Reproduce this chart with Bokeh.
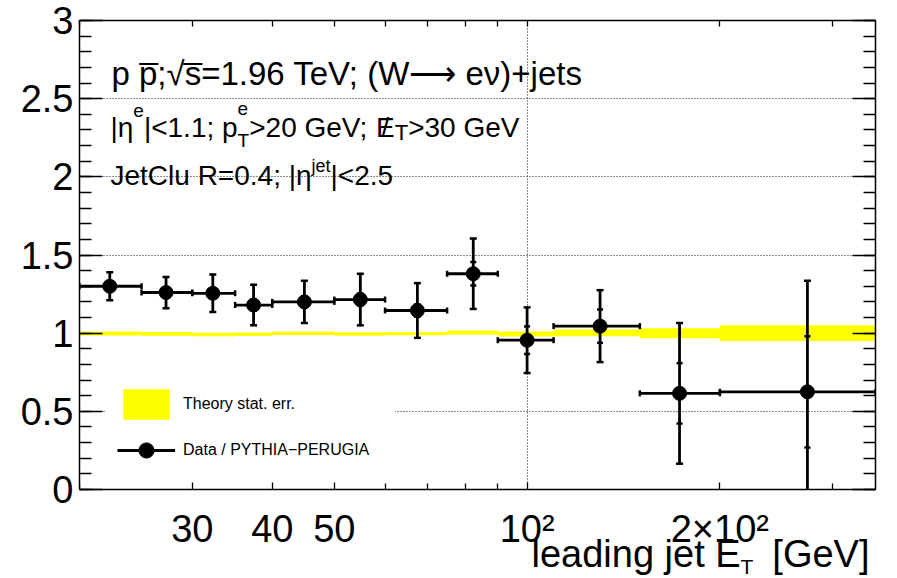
import math
from bokeh.plotting import figure
from bokeh.models import (Range1d, FixedTicker, SingleIntervalTicker, LinearAxis, LogAxis,
                          Label, Legend, LegendItem, BoxAnnotation)
from bokeh.embed import file_html
from bokeh.resources import INLINE

# ---------------- data ----------------
bin_lo = [20, 25, 30, 35, 40, 50, 60, 75, 90, 110, 150, 200]
bin_hi = [25, 30, 35, 40, 50, 60, 75, 90, 110, 150, 200, 350]
x_center = [22.3, 27.3, 32.3, 37.4, 44.9, 54.9, 67.4, 82.4, 100, 130, 173, 274]
ratio = [1.30, 1.26, 1.255, 1.18, 1.20, 1.215, 1.145, 1.38, 0.955, 1.045, 0.615, 0.625]
err_total = [0.09, 0.10, 0.12, 0.13, 0.135, 0.165, 0.175, 0.225, 0.21, 0.23, 0.45, 0.71]
err_stat = [0.025, 0.03, 0.03, 0.035, 0.035, 0.04, 0.04, 0.075, 0.088, 0.107, 0.193, 0.356]
theory_val = [0.998, 0.995, 0.992, 0.993, 1.0, 0.995, 0.997, 1.004, 0.995, 1.002, 1.0, 1.0]
theory_err = [0.013, 0.012, 0.011, 0.011, 0.011, 0.011, 0.011, 0.013, 0.016, 0.021, 0.032, 0.05]

x_major_ticks = [30, 40, 50, 100, 200]
x_minor_ticks = [20, 60, 70, 80, 90, 300]
x_tick_labels = {30: "30", 40: "40", 50: "50", 100: "10\u00b2", 200: "2\u00d710\u00b2"}
x_grid_ticks = [100]
y_tick_labels = {0: "0", 1: "1", 2: "2", 3: "3"}
y_min, y_max = 0, 3
x_min, x_max = 20, 350

legend_labels = ["Theory stat. err.", "Data / PYTHIA\u2212PERUGIA"]

# ---------------- layout (pixels) ----------------
FONT = "Liberation Sans"
W, H = 897, 578
BL, BR, BT = 79, 22, 20
AXIS_Y = 489                      # canvas row of the x axis (y = 0)
px_per_unit = (AXIS_Y - BT) / (y_max - y_min)
y_lo = y_min - (H - AXIS_Y) / px_per_unit   # frame extends to canvas bottom

p = figure(width=W, height=H, x_axis_type="log",
           x_range=Range1d(x_min, x_max), y_range=Range1d(y_lo, y_max),
           output_backend="svg", toolbar_location=None,
           min_border_left=BL, min_border_right=BR, min_border_top=BT, min_border_bottom=0,
           background_fill_color="white", border_fill_color="white")
p.outline_line_color = None

# bottom axis, fixed at y = 0
xa = p.xaxis[0]
xa.fixed_location = y_min
xa.ticker = FixedTicker(ticks=x_major_ticks, minor_ticks=x_minor_ticks)
xa.major_label_overrides = x_tick_labels
xa.major_label_text_font = FONT
xa.major_label_text_font_size = "38px"
xa.major_label_text_color = "black"
xa.major_label_standoff = 18
xa.major_tick_in = 7
xa.major_tick_out = 0
xa.minor_tick_in = 6
xa.minor_tick_out = 0
xa.axis_line_width = 1.5
xa.major_tick_line_width = 1.3
xa.minor_tick_line_width = 1.3
xa.axis_line_color = "black"

# left axis
ya = p.yaxis[0]
ya.bounds = (y_min, y_max)
ya.ticker = SingleIntervalTicker(interval=0.5, num_minor_ticks=5)
ya.major_label_overrides = y_tick_labels
ya.major_label_text_font = FONT
ya.major_label_text_font_size = "38px"
ya.major_label_text_color = "black"
ya.major_label_standoff = 6
ya.major_tick_in = 23
ya.major_tick_out = 0
ya.minor_tick_in = 12
ya.minor_tick_out = 0
ya.axis_line_width = 1.5
ya.major_tick_line_width = 1.3
ya.minor_tick_line_width = 1.3

# top and right axes (ticks only)
top = LogAxis(ticker=FixedTicker(ticks=x_major_ticks, minor_ticks=x_minor_ticks),
              major_label_text_font_size="0px", major_label_text_color=None,
              major_label_standoff=0,
              major_tick_in=6, major_tick_out=0, minor_tick_in=6, minor_tick_out=0,
              axis_line_width=1.5, major_tick_line_width=1.3, minor_tick_line_width=1.3)
p.add_layout(top, "above")
right = LinearAxis(ticker=SingleIntervalTicker(interval=0.5, num_minor_ticks=5),
                   bounds=(y_min, y_max),
                   major_label_text_font_size="0px", major_label_text_color=None,
                   major_label_standoff=0,
                   major_tick_in=23, major_tick_out=0, minor_tick_in=12, minor_tick_out=0,
                   axis_line_width=1.5, major_tick_line_width=1.3, minor_tick_line_width=1.3)
p.add_layout(right, "right")

# grids
p.xgrid.ticker = FixedTicker(ticks=x_grid_ticks)
for g in (p.xgrid, p.ygrid):
    g.grid_line_color = "black"
    g.grid_line_dash = "1 2"
    g.grid_line_width = 1
    g.grid_line_alpha = 0.9

# ---------------- glyphs ----------------
band = p.quad(left=bin_lo, right=bin_hi,
              bottom=[v - e for v, e in zip(theory_val, theory_err)],
              top=[v + e for v, e in zip(theory_val, theory_err)],
              fill_color="#FFFF00", line_color=None)

LW = 2.8
hseg = p.segment(x0=bin_lo, x1=bin_hi, y0=ratio, y1=ratio, line_color="black", line_width=LW)
p.segment(x0=x_center, x1=x_center,
          y0=[r - e for r, e in zip(ratio, err_total)],
          y1=[r + e for r, e in zip(ratio, err_total)],
          line_color="black", line_width=LW)
p.scatter(x=x_center + x_center,
          y=[r - e for r, e in zip(ratio, err_total)] + [r + e for r, e in zip(ratio, err_total)],
          marker="dash", size=7, line_color="black", line_width=2.5)
p.scatter(x=x_center + x_center,
          y=[r - e for r, e in zip(ratio, err_stat)] + [r + e for r, e in zip(ratio, err_stat)],
          marker="dash", size=6, line_color="black", line_width=2.5)
p.scatter(x=bin_lo + bin_hi, y=ratio + ratio, marker="dash", angle=math.pi / 2,
          size=6, line_color="black", line_width=2.5)
pts = p.scatter(x=x_center, y=ratio, size=14, marker="circle",
                fill_color="black", line_color="black")

# white mask below the x axis (hides grid / error bars under y = 0)
mask = BoxAnnotation(top=y_min, fill_color="white", fill_alpha=1.0, line_color=None, level="glyph")
p.renderers.append(mask)

legend = Legend(items=[LegendItem(label=legend_labels[0], renderers=[band]),
                       LegendItem(label=legend_labels[1], renderers=[hseg, pts])],
                location=(26, 97), glyph_width=58, glyph_height=38, label_standoff=8,
                label_width=200, padding=12, spacing=8, margin=0, border_line_alpha=0,
                background_fill_color="white", background_fill_alpha=1,
                label_text_font=FONT, label_text_font_size="16px", label_text_color="black")
p.add_layout(legend)

# ---------------- texts ----------------
WID = {' ': .278, '(': .333, ')': .333, '+': .584, '.': .278, '/': .278, ';': .278,
       '<': .584, '=': .584, '>': .584, 'C': .722, 'E': .667, 'G': .778, 'J': .5,
       'R': .722, 'T': .611, 'V': .667, 'W': .944, '[': .278, ']': .278, 'a': .556,
       'd': .556, 'e': .556, 'g': .556, 'i': .222, 'j': .222, 'l': .222, 'n': .556,
       'p': .556, 's': .5, 't': .278, 'u': .556, '|': .26, '\u03b7': .556, '\u03bd': .5}


def tw(s, size):
    return sum(WID.get(c, .556) for c in s) * size


def put(text, x, baseline, size, align="left"):
    p.add_layout(Label(x=x - BL, y=H - baseline, x_units="screen", y_units="screen",
                       text=text, text_font=FONT, text_font_size=f"{size}px",
                       text_baseline="alphabetic", text_align=align, text_color="black"))


# line 1
put("p p\u0305;\u221As\u0305=1.96 TeV; (W\u27f6 e\u03bd)+jets", 111, 73, 33)

# line 2
S = 28
x = 110
put("|\u03b7", x, 127, S); x += tw("|\u03b7", S)
put("e", x, 110, 19); x += tw("e", 19)
put("|<1.1; p", x, 127, S); x += tw("|<1.1; p", S)
put("e", x, 108, 19); put("T", x, 140, 19); x += tw("T", 19)
put(">20 GeV; ", x, 127, S); x += tw(">20 GeV; ", S)
put("E", x, 127, S); put("/", x + (tw("E", S) - tw("/", S)) / 2, 127, S); x += tw("E", S)
put("T", x, 132, 22); x += tw("T", 22)
put(">30 GeV", x, 127, S)

# line 3
x = 110
put("JetClu R=0.4; |\u03b7", x, 175, S); x += tw("JetClu R=0.4; |\u03b7", S)
put("jet", x, 165, 18); x += tw("jet", 18)
put("|<2.5", x, 175, S)

# axis title
x = 531
put("leading jet E", x, 553, 38); x += tw("leading jet E", 38)
put("T", x, 566, 21)
put("[GeV]", 869, 553, 38, align="right")

open("out.html", "w").write(file_html(p, INLINE))
